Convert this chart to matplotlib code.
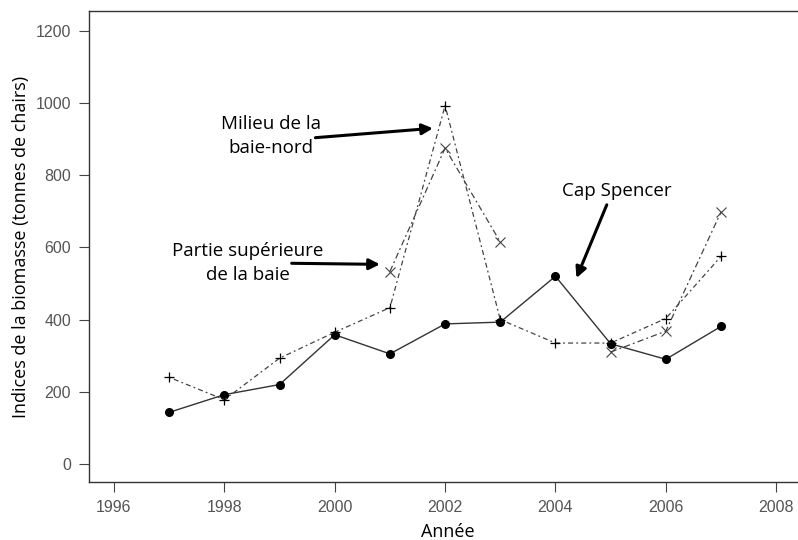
import numpy as np
import matplotlib.pyplot as plt

years = [1997, 1998, 1999, 2000, 2001, 2002, 2003, 2004, 2005, 2006, 2007]
cap_spencer = [143, 192, 220, 358, 305, 388, 393, 520, 333, 290, 381]
milieu_nord = [240, 178, 293, 365, 433, 993, 400, 335, 335, 403, 575]
partie_sup = [np.nan, np.nan, np.nan, np.nan, 533, 875, 615, np.nan, 310, 368, 698]

plt.rcParams['font.family'] = ['Open Sans', 'DejaVu Sans']

fig = plt.figure(figsize=(7.98, 5.4), dpi=100)
ax = fig.add_axes([89 / 798, 58 / 540, 1 - 89 / 798 + 0.01, 471 / 540])

ax.plot(years, cap_spencer, color='#333333', lw=1.0, marker='o', ms=5.5,
        mfc='black', mec='black')
ax.plot(years, milieu_nord, color='#444444', lw=0.9, ls=(0, (1.5, 2.5, 4, 2.5)),
        marker='+', ms=7, mew=0.9, mec='black')
ax.plot(years, partie_sup, color='#444444', lw=0.9, ls=(0, (5, 2.5, 1.5, 2.5)),
        marker='x', ms=7, mew=0.8, mec='#444444')

ax.set_xlim(1995.547, 2008.54)
ax.set_ylim(-50, 1255)
ax.set_xticks([1996, 1998, 2000, 2002, 2004, 2006, 2008])
ax.set_yticks([0, 200, 400, 600, 800, 1000, 1200])

for s in ax.spines.values():
    s.set_color('#333333')
    s.set_linewidth(1.0)
ax.spines['right'].set_visible(False)
ax.tick_params(direction='out', length=7, width=0.8, color='#444444',
               labelcolor='#555555', labelsize=11.5, pad=6)
for lab in ax.get_xticklabels() + ax.get_yticklabels():
    lab.set_family(['Liberation Sans', 'DejaVu Sans'])

ax.set_xlabel('Année', fontsize=13, labelpad=6)
ax.set_ylabel('Indices de la biomasse (tonnes de chairs)', fontsize=13, labelpad=4)

arrow = dict(arrowstyle='-|>', color='black', lw=2.2, mutation_scale=16,
             shrinkA=0, shrinkB=0)

ax.annotate('', xy=(2001.78, 930), xytext=(1999.65, 904), arrowprops=arrow)
ax.text(1998.84, 908, 'Milieu de la\nbaie-nord', ha='center', va='center',
        fontsize=13.5, linespacing=1.45)

ax.annotate('', xy=(2000.82, 553), xytext=(1999.22, 556), arrowprops=arrow)
ax.text(1998.42, 557, 'Partie supérieure\nde la baie', ha='center', va='center',
        fontsize=13.5, linespacing=1.45)

ax.annotate('', xy=(2004.38, 515), xytext=(2004.93, 718), arrowprops=arrow)
ax.text(2005.12, 757, 'Cap Spencer', ha='center', va='center', fontsize=13.5)

fig.savefig('out.png', dpi=100)
